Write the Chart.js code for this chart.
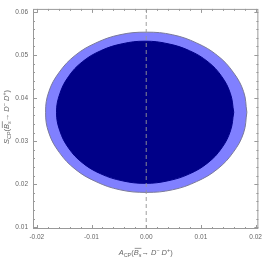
<!DOCTYPE html>
<html>
<head>
<meta charset="utf-8">
<script src="https://cdn.jsdelivr.net/npm/chart.js@4"></script>
<style>
  html, body { margin: 0; padding: 0; background: #fff; }
  #wrap { width: 266px; height: 260px; }
</style>
</head>
<body>
<div id="wrap"><canvas id="c" width="266" height="260"></canvas></div>
<script>
// tick labels
const xTicks = [-0.02, -0.01, 0.00, 0.01, 0.02];
const yTicks = [0.01, 0.02, 0.03, 0.04, 0.05, 0.06];

// outer (light) contour
const outerX = [0.0184, 0.0178, 0.0159, 0.0130, 0.0092, 0.0048, 0, -0.0048, -0.0092, -0.0130, -0.0159, -0.0178,
  -0.0184, -0.0178, -0.0159, -0.0130, -0.0092, -0.0048, 0, 0.0048, 0.0092, 0.0130, 0.0159, 0.0178, 0.0184];
const outerY = [0.0367, 0.0415, 0.0460, 0.0499, 0.0528, 0.0547, 0.0553, 0.0547, 0.0528, 0.0499, 0.0460, 0.0415,
  0.0367, 0.0319, 0.0274, 0.0235, 0.0206, 0.0187, 0.0181, 0.0187, 0.0206, 0.0235, 0.0274, 0.0319, 0.0367];

// inner (dark) contour
const innerX = [0.0160, 0.0154, 0.0138, 0.0113, 0.0079, 0.0040, -0.0002, -0.0044, -0.0083, -0.0117, -0.0142, -0.0158,
  -0.0164, -0.0158, -0.0142, -0.0117, -0.0083, -0.0044, -0.0002, 0.0040, 0.0079, 0.0113, 0.0138, 0.0154, 0.0160];
const innerY = [0.0367, 0.0410, 0.0450, 0.0484, 0.0510, 0.0526, 0.0532, 0.0526, 0.0510, 0.0484, 0.0450, 0.0410,
  0.0367, 0.0324, 0.0284, 0.0250, 0.0224, 0.0208, 0.0202, 0.0208, 0.0224, 0.0250, 0.0284, 0.0324, 0.0367];

// dashed reference line at A_CP = 0
const zeroX = [0, 0];
const zeroY = [0.0096, 0.0607];

const toPts = (xs, ys) => xs.map((x, i) => ({ x: x, y: ys[i] }));

const FONT = "'Liberation Sans', Arial, sans-serif";
const TEXT = '#666';
const FRAME = '#999';

// title pieces: it = italic, sub/sup = script, ol = overline
function titleParts(sym) {
  return [
    { t: sym, it: true }, { t: 'CP', sub: true }, { t: '(' },
    { t: 'B', it: true, ol: true }, { t: 's', it: true, sub: true, ol: true },
    { t: '\u2192 ' }, { t: 'D', it: true }, { t: '\u2212', sup: true },
    { t: ' D', it: true }, { t: '+', sup: true }, { t: ')' }
  ];
}

function drawRich(ctx, parts, cx, cy, size) {
  const fontOf = p => (p.it ? 'italic ' : '') + (p.sub || p.sup ? size * 0.72 : size) + 'px ' + FONT;
  let total = 0;
  parts.forEach(p => { ctx.font = fontOf(p); p.w = ctx.measureText(p.t).width; total += p.w; });
  let x = cx - total / 2;
  let olStart = null, olEnd = null;
  ctx.fillStyle = TEXT;
  ctx.textBaseline = 'middle';
  ctx.textAlign = 'left';
  parts.forEach(p => {
    ctx.font = fontOf(p);
    let dy = 0;
    if (p.sub) dy = size * 0.3;
    if (p.sup) dy = -size * 0.35;
    ctx.fillText(p.t, x, cy + dy);
    if (p.ol) { if (olStart === null) olStart = x; olEnd = x + p.w; }
    x += p.w;
  });
  if (olStart !== null) {
    ctx.strokeStyle = TEXT;
    ctx.lineWidth = 0.7;
    ctx.beginPath();
    ctx.moveTo(olStart + 1, cy - size * 0.62);
    ctx.lineTo(olEnd, cy - size * 0.62);
    ctx.stroke();
  }
}

const framePlugin = {
  id: 'frame',
  afterDraw(chart) {
    const { ctx, chartArea: a, scales } = chart;
    const xs = scales.x, ys = scales.y;
    ctx.save();
    ctx.strokeStyle = FRAME;
    ctx.lineWidth = 1;
    ctx.setLineDash([]);
    ctx.strokeRect(a.left + 0.5, a.top + 0.5, a.right - a.left - 1, a.bottom - a.top - 1);

    ctx.beginPath();
    // majors every 0.01, minors every 0.002, pointing inwards on all four sides
    for (let i = -10; i <= 10; i++) {
      const px = Math.round(xs.getPixelForValue(i * 0.002)) + 0.5;
      const len = i % 5 === 0 ? 4 : 2;
      ctx.moveTo(px, a.bottom); ctx.lineTo(px, a.bottom - len);
      ctx.moveTo(px, a.top); ctx.lineTo(px, a.top + len);
    }
    for (let i = 5; i <= 30; i++) {
      const py = Math.round(ys.getPixelForValue(i * 0.002)) + 0.5;
      const len = i % 5 === 0 ? 4 : 2;
      ctx.moveTo(a.left, py); ctx.lineTo(a.left + len, py);
      ctx.moveTo(a.right, py); ctx.lineTo(a.right - len, py);
    }
    ctx.stroke();

    // axis titles
    drawRich(ctx, titleParts('A'), (a.left + a.right) / 2, 253, 7.5);
    ctx.translate(7, (a.top + a.bottom) / 2 - 2);
    ctx.rotate(-Math.PI / 2);
    drawRich(ctx, titleParts('S'), 0, 0, 7.5);
    ctx.restore();
  }
};

new Chart(document.getElementById('c').getContext('2d'), {
  type: 'scatter',
  data: {
    datasets: [
      { data: toPts(zeroX, zeroY), showLine: true, borderColor: 'rgba(150,150,150,0.9)', borderWidth: 1,
        borderDash: [4, 3], pointRadius: 0, fill: false, order: 0 },
      { data: toPts(innerX, innerY), showLine: true, borderColor: '#000088', backgroundColor: '#000088',
        borderWidth: 1, tension: 0.4, pointRadius: 0, fill: 'shape', order: 1 },
      { data: toPts(outerX, outerY), showLine: true, borderColor: '#7a7a9a', backgroundColor: '#8080ff',
        borderWidth: 1, tension: 0.4, pointRadius: 0, fill: 'shape', order: 2 }
    ]
  },
  options: {
    responsive: false,
    animation: false,
    events: [],
    layout: { padding: { top: 2, right: 4, left: 0, bottom: 0 } },
    plugins: { legend: { display: false }, tooltip: { enabled: false } },
    scales: {
      x: {
        type: 'linear', min: -0.0207, max: 0.0205,
        afterBuildTicks: s => { s.ticks = xTicks.map(v => ({ value: v })); },
        afterFit: s => { s.height = 31; },
        grid: { display: false, drawTicks: false }, border: { display: false },
        ticks: { autoSkip: false, maxRotation: 0, padding: 4, color: TEXT,
          font: { family: FONT, size: 6.5 }, callback: v => v.toFixed(2) }
      },
      y: {
        type: 'linear', min: 0.0096, max: 0.0607,
        afterBuildTicks: s => { s.ticks = yTicks.map(v => ({ value: v })); },
        afterFit: s => { s.width = 33; },
        grid: { display: false, drawTicks: false }, border: { display: false },
        ticks: { autoSkip: false, padding: 5, color: TEXT,
          font: { family: FONT, size: 6.5 }, callback: v => v.toFixed(2) }
      }
    }
  },
  plugins: [framePlugin]
});
</script>
</body>
</html>
